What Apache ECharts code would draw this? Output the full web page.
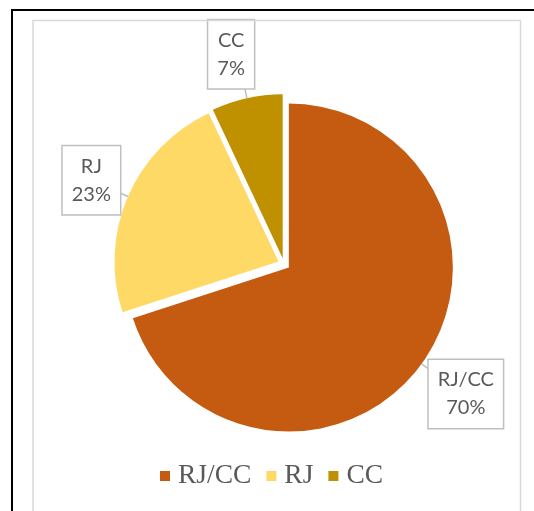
<!DOCTYPE html>
<html>
<head>
<meta charset="utf-8">
<script src="https://cdn.jsdelivr.net/npm/echarts@6/dist/echarts.min.js"></script>
<style>
  html, body { margin: 0; padding: 0; background: #fff; }
  #chart { width: 534px; height: 511px; }
</style>
</head>
<body>
<div id="chart"></div>
<script>
const categories = ['RJ/CC', 'RJ', 'CC'];
const values = [70, 23, 7];
const colors = ['#C55A11', '#FFD966', '#BF9000'];

// label layout tuning (styles, not data)
const labelLineLen = [51, 41, 45];
const labelShift = [[-2, 0], [6, 0], [-1, 0]];

const chart = echarts.init(document.getElementById('chart'), null, { renderer: 'canvas' });

const seriesData = categories.map((name, i) => ({
  name: name,
  value: values[i],
  selected: true,
  itemStyle: { color: colors[i] },
  select: { itemStyle: { color: colors[i] } },
  labelLine: { length: labelLineLen[i], length2: 0 }
}));

chart.setOption({
  animation: false,
  backgroundColor: '#ffffff',
  graphic: [
    { type: 'rect', z: 100, silent: true,
      shape: { x: 12, y: 10, width: 700, height: 700 },
      style: { fill: 'none', stroke: '#000000', lineWidth: 2 } },
    { type: 'rect', z: 100, silent: true,
      shape: { x: 33, y: 20.5, width: 487.5, height: 700 },
      style: { fill: 'none', stroke: '#D9D9D9', lineWidth: 1.5 } }
  ],
  legend: {
    data: categories,
    left: 155,
    top: 457,
    itemWidth: 10,
    itemHeight: 10,
    itemGap: 15,
    icon: 'rect',
    selectedMode: false,
    textStyle: {
      fontFamily: '"Liberation Serif", "Times New Roman", serif',
      fontSize: 27.5,
      color: '#595959',
      padding: [0, 0, 0, 3]
    }
  },
  series: [{
    type: 'pie',
    center: [284, 264],
    radius: 164,
    startAngle: 90,
    clockwise: true,
    selectedMode: 'multiple',
    selectedOffset: 6,
    avoidLabelOverlap: false,
    itemStyle: { borderWidth: 0 },
    emphasis: { disabled: true },
    label: {
      show: true,
      position: 'outside',
      formatter: function (p) { return p.name + '\n' + Math.round(p.percent) + '%'; },
      fontFamily: 'Lato, "Open Sans", sans-serif',
      fontSize: 20,
      lineHeight: 28,
      color: '#595959',
      backgroundColor: '#ffffff',
      borderColor: '#BFBFBF',
      borderWidth: 1.5,
      padding: [6, 9, 6, 9],
      distanceToLabelLine: 5
    },
    labelLine: {
      show: true,
      smooth: false,
      lineStyle: { color: '#BFBFBF', width: 1.5 }
    },
    labelLayout: function (params) {
      const s = labelShift[params.dataIndex];
      return { align: 'center', dx: s[0], dy: s[1] };
    },
    data: seriesData
  }]
});
</script>
</body>
</html>
